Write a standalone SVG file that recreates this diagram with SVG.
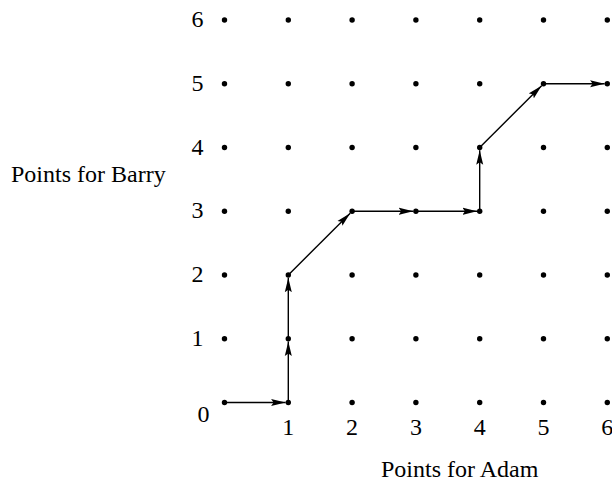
<svg xmlns="http://www.w3.org/2000/svg" width="612" height="482" viewBox="0 0 612 482">
  <style>
    text { font-family: "Liberation Serif", "Times New Roman", serif; font-size: 24px; fill: #000; }
    .num { text-anchor: middle; }
    .dot { fill: #000; }
    .edge { stroke: #000; stroke-width: 1.4; fill: none; marker-end: url(#arrow); }
  </style>
  <defs>
    <marker id="arrow" markerUnits="userSpaceOnUse" markerWidth="16" markerHeight="8" refX="14.5" refY="4" orient="auto">
      <path d="M0,0.5 L14.5,4 L0,7.5 L2.5,4 z" fill="#000"/>
    </marker>
  </defs>

  <!-- axis titles -->
  <g id="axis-titles">
    <text x="11" y="182">Points for Barry</text>
    <text x="381" y="477">Points for Adam</text>
  </g>

  <!-- vertical scale -->
  <g id="y-labels">
    <text class="num" x="197.5" y="27">6</text>
    <text class="num" x="197.5" y="91">5</text>
    <text class="num" x="197.5" y="155">4</text>
    <text class="num" x="197.5" y="218">3</text>
    <text class="num" x="197.5" y="282">2</text>
    <text class="num" x="197.5" y="346">1</text>
    <text class="num" x="203.5" y="422">0</text>
  </g>

  <!-- horizontal scale -->
  <g id="x-labels">
    <text class="num" x="288.3" y="434.5">1</text>
    <text class="num" x="352.1" y="434.5">2</text>
    <text class="num" x="415.9" y="434.5">3</text>
    <text class="num" x="479.7" y="434.5">4</text>
    <text class="num" x="543.5" y="434.5">5</text>
    <text class="num" x="607.3" y="434.5">6</text>
  </g>

  <!-- path through the score lattice -->
  <g id="connectors">
    <line class="edge" x1="224.5" y1="402.5" x2="285.6" y2="402.5"/>
    <line class="edge" x1="288.3" y1="402.5" x2="288.3" y2="341.45"/>
    <line class="edge" x1="288.3" y1="338.75" x2="288.3" y2="277.7"/>
    <line class="edge" x1="288.3" y1="275" x2="350.2" y2="213.15"/>
    <line class="edge" x1="352.1" y1="211.25" x2="413.2" y2="211.25"/>
    <line class="edge" x1="415.9" y1="211.25" x2="477.0" y2="211.25"/>
    <line class="edge" x1="479.7" y1="211.25" x2="479.7" y2="150.2"/>
    <line class="edge" x1="479.7" y1="147.5" x2="541.6" y2="85.65"/>
    <line class="edge" x1="543.5" y1="83.75" x2="604.6" y2="83.75"/>
  </g>

  <!-- lattice points (column = Adam, row = Barry) -->
  <g id="lattice">
    <g id="col-0">
      <circle class="dot" cx="224.5" cy="20" r="2.7"/>
      <circle class="dot" cx="224.5" cy="83.75" r="2.7"/>
      <circle class="dot" cx="224.5" cy="147.5" r="2.7"/>
      <circle class="dot" cx="224.5" cy="211.25" r="2.7"/>
      <circle class="dot" cx="224.5" cy="275" r="2.7"/>
      <circle class="dot" cx="224.5" cy="338.75" r="2.7"/>
      <circle class="dot" cx="224.5" cy="402.5" r="2.7"/>
    </g>
    <g id="col-1">
      <circle class="dot" cx="288.3" cy="20" r="2.7"/>
      <circle class="dot" cx="288.3" cy="83.75" r="2.7"/>
      <circle class="dot" cx="288.3" cy="147.5" r="2.7"/>
      <circle class="dot" cx="288.3" cy="211.25" r="2.7"/>
      <circle class="dot" cx="288.3" cy="275" r="2.7"/>
      <circle class="dot" cx="288.3" cy="338.75" r="2.7"/>
      <circle class="dot" cx="288.3" cy="402.5" r="2.7"/>
    </g>
    <g id="col-2">
      <circle class="dot" cx="352.1" cy="20" r="2.7"/>
      <circle class="dot" cx="352.1" cy="83.75" r="2.7"/>
      <circle class="dot" cx="352.1" cy="147.5" r="2.7"/>
      <circle class="dot" cx="352.1" cy="211.25" r="2.7"/>
      <circle class="dot" cx="352.1" cy="275" r="2.7"/>
      <circle class="dot" cx="352.1" cy="338.75" r="2.7"/>
      <circle class="dot" cx="352.1" cy="402.5" r="2.7"/>
    </g>
    <g id="col-3">
      <circle class="dot" cx="415.9" cy="20" r="2.7"/>
      <circle class="dot" cx="415.9" cy="83.75" r="2.7"/>
      <circle class="dot" cx="415.9" cy="147.5" r="2.7"/>
      <circle class="dot" cx="415.9" cy="211.25" r="2.7"/>
      <circle class="dot" cx="415.9" cy="275" r="2.7"/>
      <circle class="dot" cx="415.9" cy="338.75" r="2.7"/>
      <circle class="dot" cx="415.9" cy="402.5" r="2.7"/>
    </g>
    <g id="col-4">
      <circle class="dot" cx="479.7" cy="20" r="2.7"/>
      <circle class="dot" cx="479.7" cy="83.75" r="2.7"/>
      <circle class="dot" cx="479.7" cy="147.5" r="2.7"/>
      <circle class="dot" cx="479.7" cy="211.25" r="2.7"/>
      <circle class="dot" cx="479.7" cy="275" r="2.7"/>
      <circle class="dot" cx="479.7" cy="338.75" r="2.7"/>
      <circle class="dot" cx="479.7" cy="402.5" r="2.7"/>
    </g>
    <g id="col-5">
      <circle class="dot" cx="543.5" cy="20" r="2.7"/>
      <circle class="dot" cx="543.5" cy="83.75" r="2.7"/>
      <circle class="dot" cx="543.5" cy="147.5" r="2.7"/>
      <circle class="dot" cx="543.5" cy="211.25" r="2.7"/>
      <circle class="dot" cx="543.5" cy="275" r="2.7"/>
      <circle class="dot" cx="543.5" cy="338.75" r="2.7"/>
      <circle class="dot" cx="543.5" cy="402.5" r="2.7"/>
    </g>
    <g id="col-6">
      <circle class="dot" cx="607.3" cy="20" r="2.7"/>
      <circle class="dot" cx="607.3" cy="83.75" r="2.7"/>
      <circle class="dot" cx="607.3" cy="147.5" r="2.7"/>
      <circle class="dot" cx="607.3" cy="211.25" r="2.7"/>
      <circle class="dot" cx="607.3" cy="275" r="2.7"/>
      <circle class="dot" cx="607.3" cy="338.75" r="2.7"/>
      <circle class="dot" cx="607.3" cy="402.5" r="2.7"/>
    </g>
  </g>
</svg>
